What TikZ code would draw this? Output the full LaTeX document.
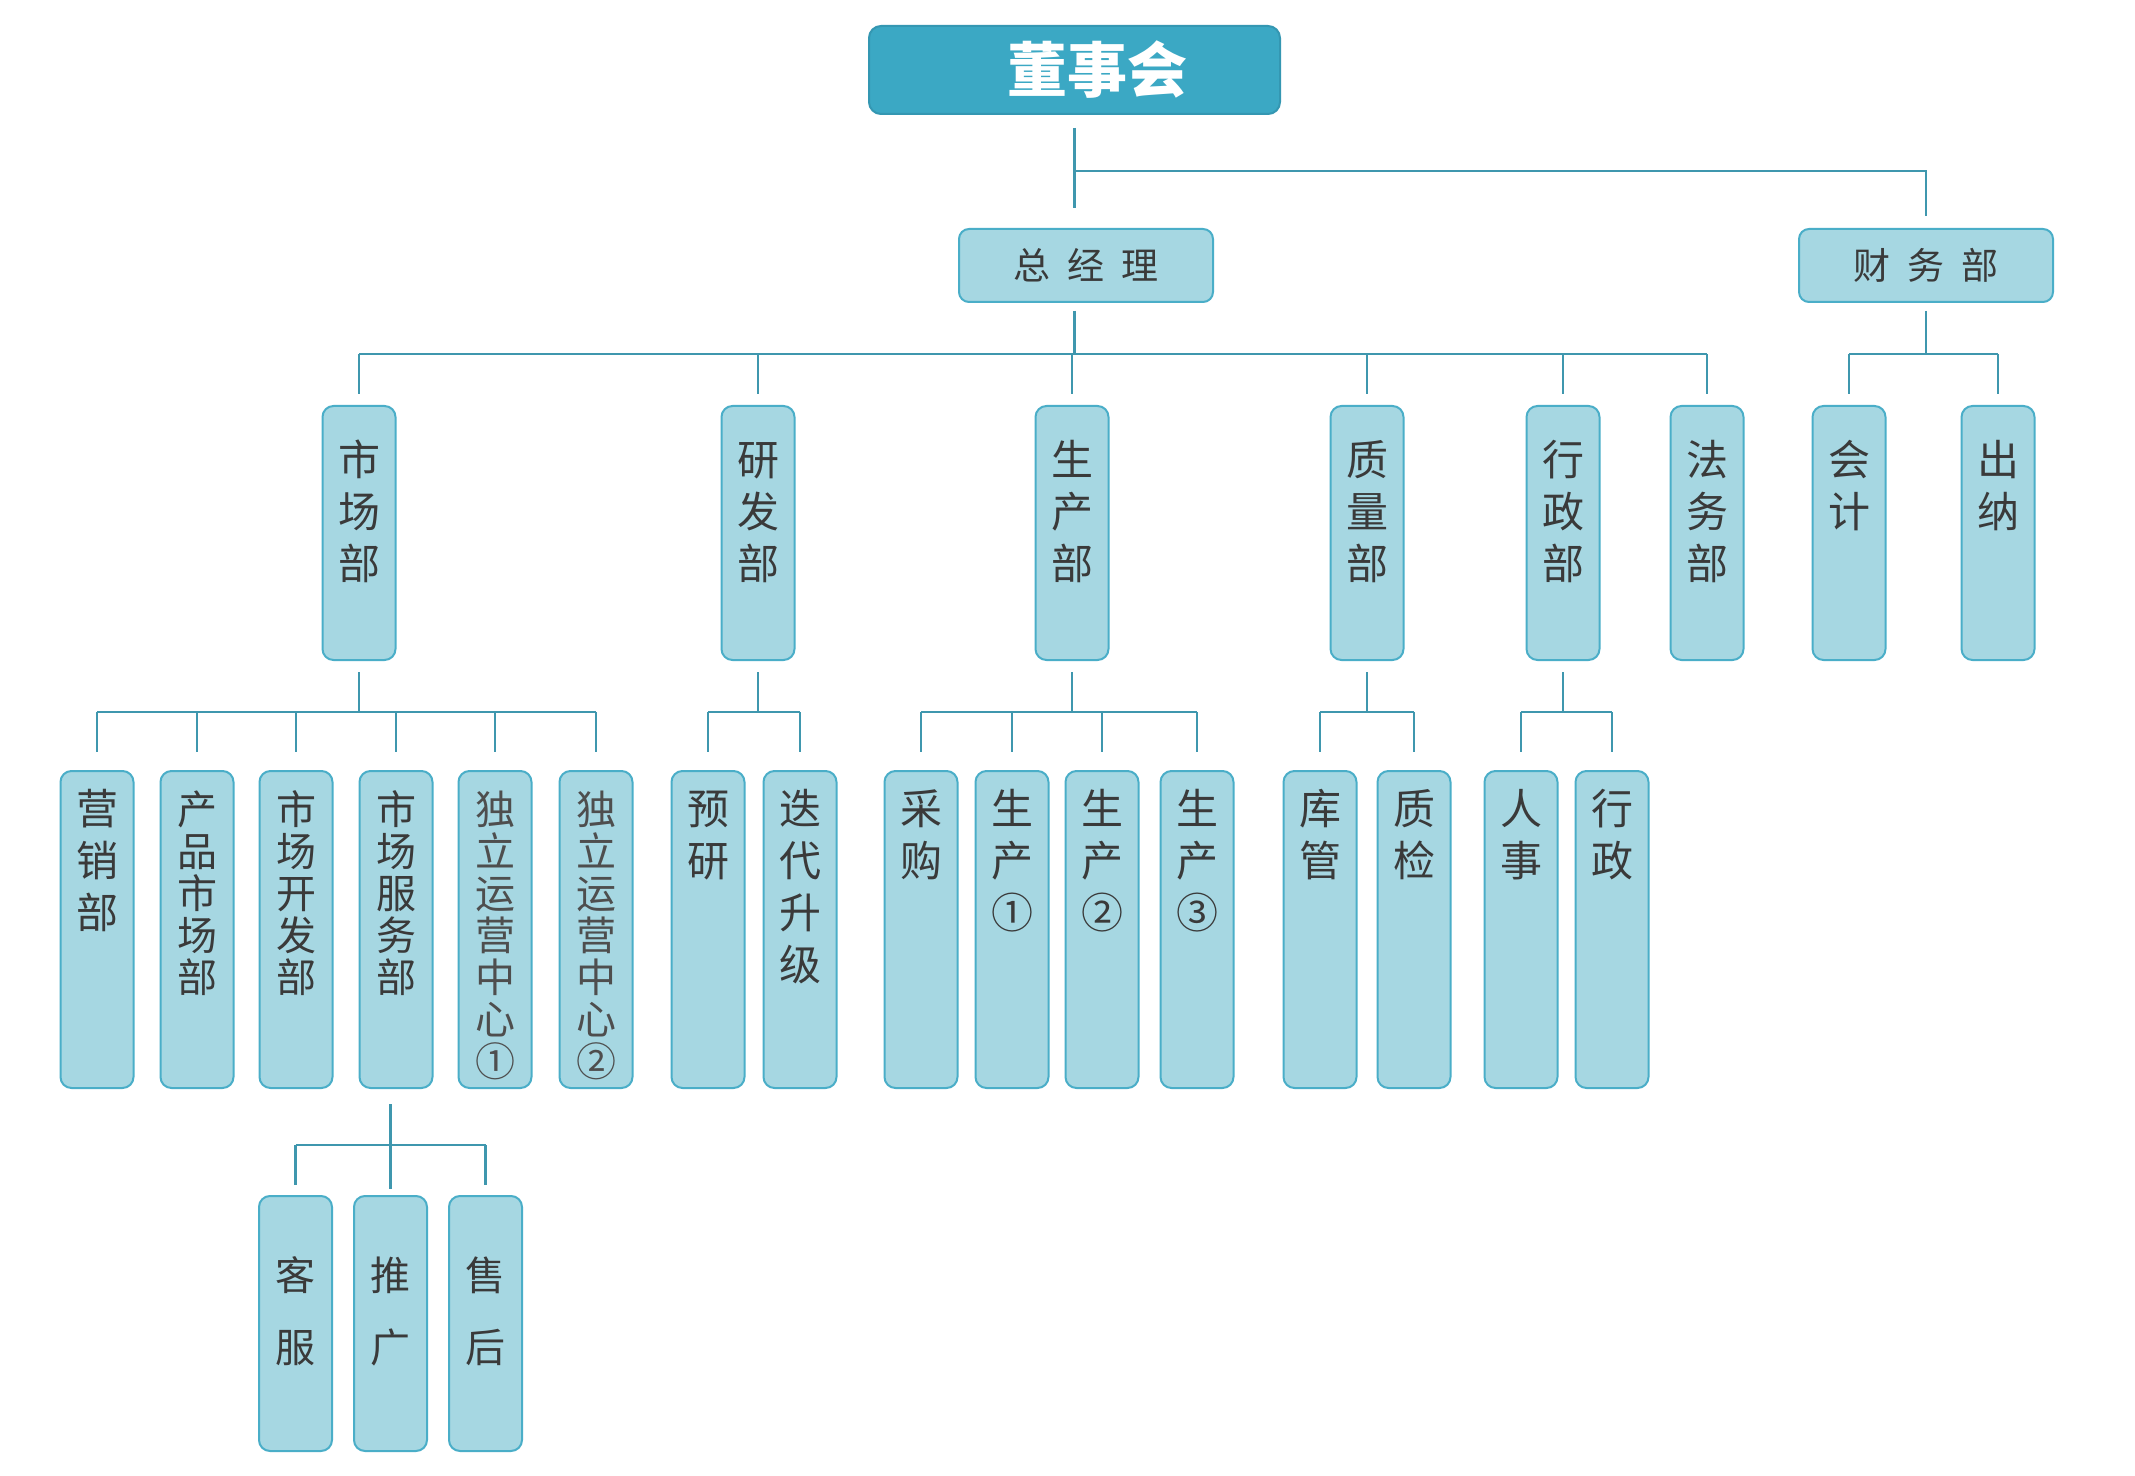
\documentclass[tikz,border=0pt]{standalone}
\usepackage{fontspec}
\newfontfamily\cjk{Noto Sans CJK SC}
\usetikzlibrary{calc}
\definecolor{boxfill}{HTML}{A6D7E2}
\definecolor{boxline}{HTML}{4AAEC8}
\definecolor{topfill}{HTML}{3BA8C4}
\definecolor{topline}{HTML}{3497B2}
\definecolor{linec}{HTML}{3F97AE}
\definecolor{txt}{HTML}{3A3A3A}
\definecolor{txtb}{HTML}{4E4E4E}
% #1 box height, #2 first baseline, #3 font size, #4 line pitch, #5 text
\newcommand{\vtxt}[5]{\parbox[c][#1][t]{36.5pt}{\centering\fontsize{#3}{#4}\selectfont\rule{0pt}{#2}#5\par}}
\begin{document}
\begin{tikzpicture}[x=0.5pt,y=-0.5pt,
  lvl/.style={draw=boxline, fill=boxfill, line width=1pt, rounded corners=5.5pt, inner sep=0pt, text=txt, font=\cjk},
  topbox/.style={draw=topline, fill=topfill, line width=1pt, rounded corners=6pt, inner sep=0pt,
     minimum width=205.5pt, minimum height=44pt, text=white, font=\cjk\bfseries\fontsize{30pt}{30pt}\selectfont},
  midbox/.style={draw=boxline, fill=boxfill, line width=1pt, rounded corners=5pt, inner sep=0pt,
     minimum width=127pt, minimum height=36.5pt, text=txt, font=\cjk\fontsize{18.5pt}{18.5pt}\selectfont},
  conn/.style={draw=linec, line width=1.2pt}]
\useasboundingbox (0,0) rectangle (2135,1476);
\fill[white] (0,0) rectangle (2135,1476);

% top levels
\node[topbox] (dsh) at (1074.5,70) {\hspace*{22.5pt}董事会};
\node[midbox] (zjl) at (1086,265.5) {总\hspace{8.5pt}经\hspace{8.5pt}理};
\node[midbox] (cwb) at (1926,265.5) {财\hspace{8.5pt}务\hspace{8.5pt}部};

% level 2
\node[lvl] (scb)  at (359,533)  {\vtxt{127pt}{34.5pt}{21pt}{26pt}{市\\场\\部}};
\node[lvl] (yfb)  at (758,533)  {\vtxt{127pt}{34.5pt}{21pt}{26pt}{研\\发\\部}};
\node[lvl] (scbu) at (1072,533) {\vtxt{127pt}{34.5pt}{21pt}{26pt}{生\\产\\部}};
\node[lvl] (zlb)  at (1367,533) {\vtxt{127pt}{34.5pt}{21pt}{26pt}{质\\量\\部}};
\node[lvl] (xzb)  at (1563,533) {\vtxt{127pt}{34.5pt}{21pt}{26pt}{行\\政\\部}};
\node[lvl] (fwb)  at (1707,533) {\vtxt{127pt}{34.5pt}{21pt}{26pt}{法\\务\\部}};
\node[lvl] (kj)   at (1849,533) {\vtxt{127pt}{34.5pt}{21pt}{26pt}{会\\计}};
\node[lvl] (cn)   at (1998,533) {\vtxt{127pt}{34.5pt}{21pt}{26pt}{出\\纳}};

% level 3
\node[lvl] (yx)   at (97,929.5)   {\vtxt{158.5pt}{26.5pt}{21pt}{26pt}{营\\销\\部}};
\node[lvl] (cpsc) at (197,929.5)  {\vtxt{158.5pt}{26.5pt}{20pt}{21pt}{产\\品\\市\\场\\部}};
\node[lvl] (sckf) at (296,929.5)  {\vtxt{158.5pt}{26.5pt}{20pt}{21pt}{市\\场\\开\\发\\部}};
\node[lvl] (scfw) at (396,929.5)  {\vtxt{158.5pt}{26.5pt}{20pt}{21pt}{市\\场\\服\\务\\部}};
\node[lvl,text=txtb] (dl1) at (495,929.5) {\vtxt{158.5pt}{26.5pt}{20pt}{21pt}{独\\立\\运\\营\\中\\心\\①}};
\node[lvl,text=txtb] (dl2) at (596,929.5) {\vtxt{158.5pt}{26.5pt}{20pt}{21pt}{独\\立\\运\\营\\中\\心\\②}};
\node[lvl] (yy)   at (708,929.5)  {\vtxt{158.5pt}{26.5pt}{21pt}{26pt}{预\\研}};
\node[lvl] (ddsj) at (800,929.5)  {\vtxt{158.5pt}{26.5pt}{21pt}{26pt}{迭\\代\\升\\级}};
\node[lvl] (cg)   at (921,929.5)  {\vtxt{158.5pt}{26.5pt}{21pt}{26pt}{采\\购}};
\node[lvl] (sc1)  at (1012,929.5) {\vtxt{158.5pt}{26.5pt}{21pt}{26pt}{生\\产\\①}};
\node[lvl] (sc2)  at (1102,929.5) {\vtxt{158.5pt}{26.5pt}{21pt}{26pt}{生\\产\\②}};
\node[lvl] (sc3)  at (1197,929.5) {\vtxt{158.5pt}{26.5pt}{21pt}{26pt}{生\\产\\③}};
\node[lvl] (kg)   at (1320,929.5) {\vtxt{158.5pt}{26.5pt}{21pt}{26pt}{库\\管}};
\node[lvl] (zj)   at (1414,929.5) {\vtxt{158.5pt}{26.5pt}{21pt}{26pt}{质\\检}};
\node[lvl] (rs)   at (1521,929.5) {\vtxt{158.5pt}{26.5pt}{21pt}{26pt}{人\\事}};
\node[lvl] (xz)   at (1612,929.5) {\vtxt{158.5pt}{26.5pt}{21pt}{26pt}{行\\政}};

% level 4
\node[lvl] (kf) at (295.5,1323.5) {\vtxt{127.5pt}{47pt}{20pt}{36pt}{客\\服}};
\node[lvl] (tg) at (390.5,1323.5) {\vtxt{127.5pt}{47pt}{20pt}{36pt}{推\\广}};
\node[lvl] (sh) at (485.5,1323.5) {\vtxt{127.5pt}{47pt}{20pt}{36pt}{售\\后}};

% bus levels
\coordinate (bA) at (0,171);
\coordinate (bB) at (0,354);
\coordinate (bC) at (0,712);
\coordinate (bD) at (0,1145);

% board -> GM and finance
\draw[conn] ($(dsh.south)+(0,13)$) -- ($(dsh.south |- zjl.north)+(0,-20)$);
\draw[conn] (dsh.south |- bA) -| ($(cwb.north)+(0,-12)$);

% GM -> departments
\draw[conn] ($(dsh.south |- zjl.south)+(0,8)$) -- (dsh.south |- bB);
\draw[conn] (scb.north |- bB) -- (fwb.north |- bB);
\foreach \n in {scb,yfb,scbu,zlb,xzb,fwb}
  \draw[conn] (\n.north |- bB) -- ($(\n.north)+(0,-11)$);

% finance -> accounting, cashier
\draw[conn] ($(cwb.south)+(0,8)$) -- (cwb.south |- bB);
\draw[conn] (kj.north |- bB) -- (cn.north |- bB);
\foreach \n in {kj,cn}
  \draw[conn] (\n.north |- bB) -- ($(\n.north)+(0,-11)$);

% departments -> sections
\foreach \p/\a/\b in {scb/yx/dl2, yfb/yy/ddsj, scbu/cg/sc3, zlb/kg/zj, xzb/rs/xz} {
  \draw[conn] ($(\p.south)+(0,11)$) -- (\p.south |- bC);
  \draw[conn] (\a.north |- bC) -- (\b.north |- bC);
}
\foreach \n in {yx,cpsc,sckf,scfw,dl1,dl2,yy,ddsj,cg,sc1,sc2,sc3,kg,zj,rs,xz}
  \draw[conn] (\n.north |- bC) -- ($(\n.north)+(0,-18)$);

% market service -> sub units
\draw[conn] ($(scfw.south -| tg.north)+(0,15)$) -- ($(tg.north)+(0,-6)$);
\draw[conn] (kf.north |- bD) -- (sh.north |- bD);
\foreach \n in {kf,sh}
  \draw[conn] (\n.north |- bD) -- ($(\n.north)+(0,-10)$);
\end{tikzpicture}
\end{document}
